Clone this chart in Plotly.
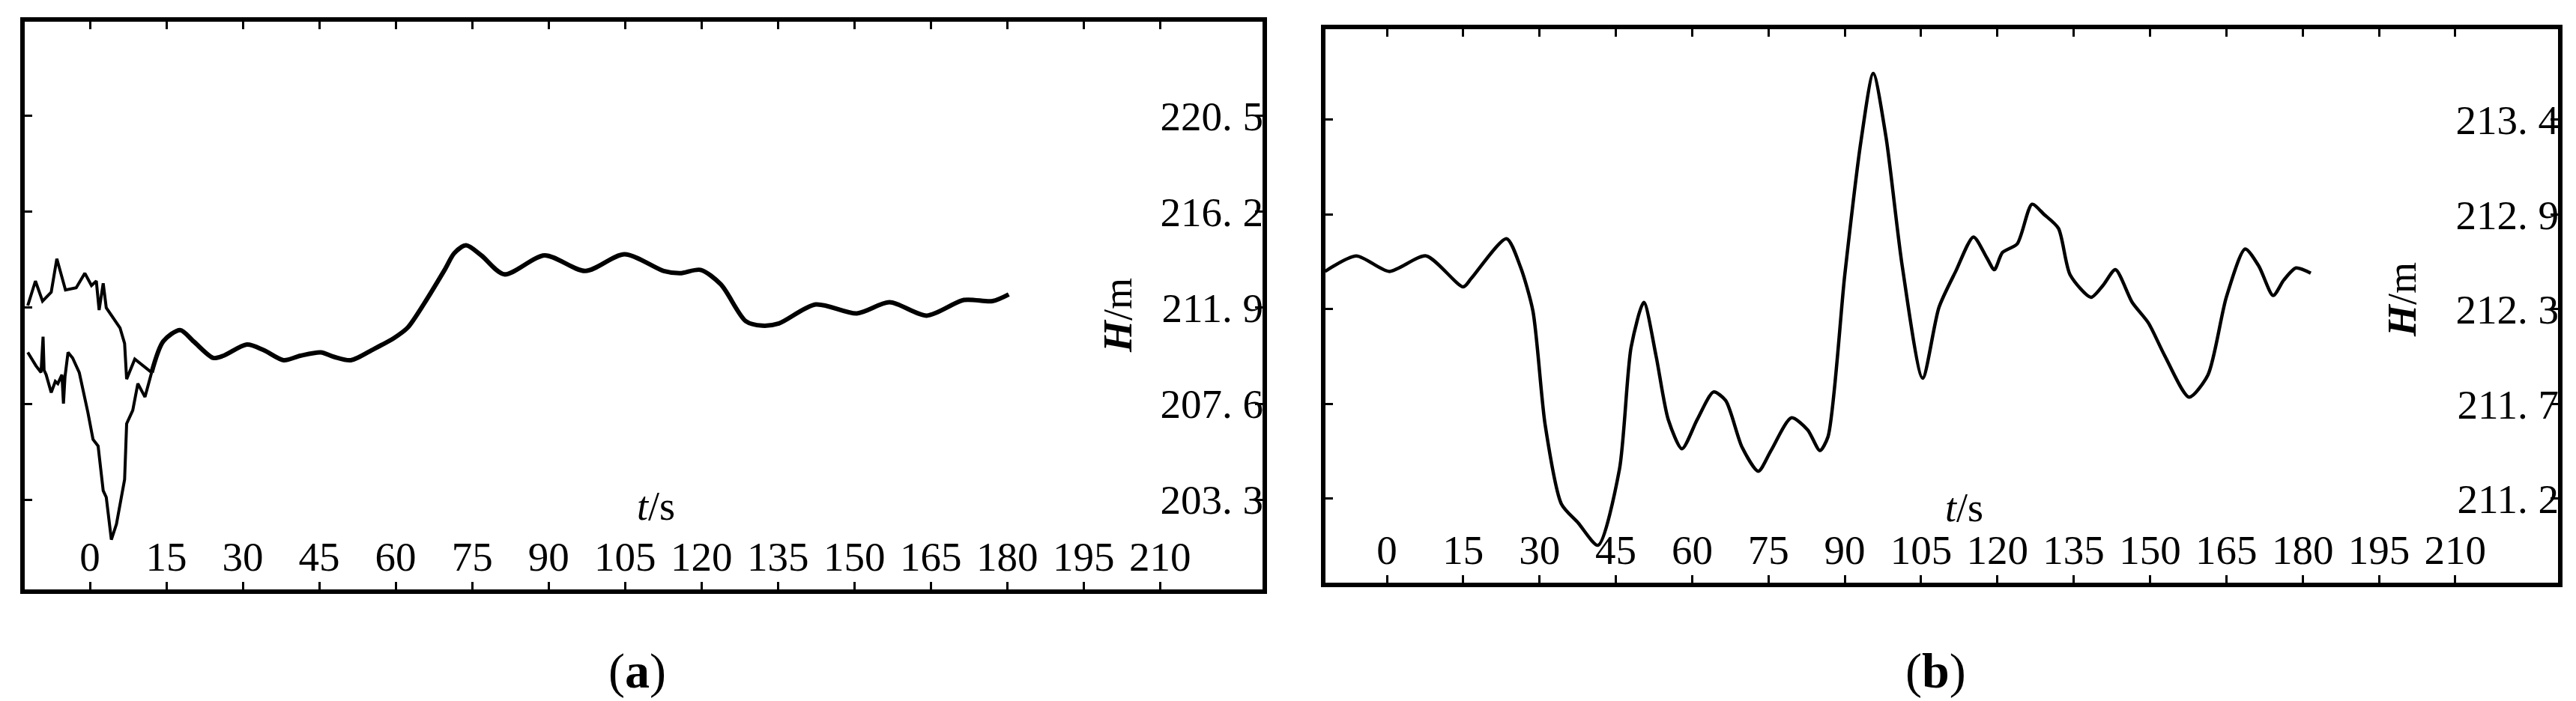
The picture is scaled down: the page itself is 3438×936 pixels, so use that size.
import plotly.graph_objects as go

# ---------------- data: panel (a) ----------------
a_upper_t = [-12.2, -10.7, -9.3, -7.6, -6.5, -4.8, -2.7, -1.0, 0.3, 1.25, 1.8, 2.6, 3.2, 5.9, 6.8, 7.2, 8.8, 12.1]
a_upper_H = [212.0, 213.1, 212.2, 212.6, 214.1, 212.7, 212.8, 213.45, 212.9, 213.1, 211.8, 213.0, 211.9, 211.0, 210.3, 208.7, 209.6, 209.0]

a_lower_t = [-12.2, -10.6, -9.6, -9.2, -9.0, -8.6, -7.6, -6.8, -6.3, -5.5, -5.2, -4.9, -4.3, -3.4, -2.1, -1.0, -0.4,
             0.6, 1.6, 2.6, 3.2, 4.2, 5.2, 6.8, 7.2, 8.4, 9.4, 10.8, 12.1]
a_lower_H = [209.9, 209.3, 209.0, 210.6, 209.1, 208.9, 208.1, 208.6, 208.5, 208.9, 207.6, 208.8, 209.9, 209.65, 209.0, 207.9, 207.2,
             206.0, 205.7, 203.7, 203.4, 201.5, 202.2, 204.2, 206.7, 207.3, 208.5, 207.9, 209.0]

a_common_t = [12.1, 14.4, 17.7, 20.3, 24.2, 26.2, 30.8, 34.1, 38.0, 41.3, 45.3, 47.9, 51.2, 55.7, 59.7, 62.3, 65.6,
              69.6, 71.5, 73.8, 76.8, 81.3, 89.2, 97.2, 104.9, 112.6, 115.8, 119.8, 123.8, 128.7, 131.9, 135.2,
              142.4, 150.5, 156.9, 164.2, 171.5, 177.1, 180.3]
a_common_H = [209.0, 210.4, 210.9, 210.4, 209.65, 209.75, 210.25, 210.0, 209.55, 209.75, 209.9, 209.7, 209.55, 210.05, 210.55, 211.0, 212.1,
              213.6, 214.35, 214.7, 214.25, 213.4, 214.25, 213.55, 214.3, 213.55, 213.45, 213.6, 212.95, 211.3, 211.1, 211.2,
              212.05, 211.65, 212.15, 211.55, 212.25, 212.2, 212.5]

a_ytick_vals = [220.5, 216.2, 211.9, 207.6, 203.3]
a_ytick_text = ["220. 5", "216. 2", "211. 9", "207. 6", "203. 3"]

# ---------------- data: panel (b) ----------------
b_t = [-12.15, -6.0, 0.45, 7.7, 15.0, 16.6, 23.5, 26.2, 28.7, 31.1, 34.3, 37.6, 41.5, 45.7, 48.0, 50.5, 52.9, 55.3,
       58.0, 61.0, 64.2, 66.6, 69.8, 73.0, 75.5, 79.5, 82.7, 85.1, 86.7, 90.0, 93.2, 95.6, 98.1, 101.3, 105.3, 108.5,
       111.8, 115.3, 117.9, 119.4, 121.0, 123.9, 126.8, 129.2, 132.0, 134.3, 138.4, 140.8, 143.2, 146.5, 149.7, 152.9,
       157.7, 161.4, 165.0, 168.7, 171.4, 174.2, 176.3, 178.7, 181.6]
b_H = [212.52, 212.61, 212.52, 212.61, 212.43, 212.48, 212.71, 212.55, 212.29, 211.63, 211.17, 211.06, 210.93, 211.37,
       212.08, 212.34, 212.03, 211.66, 211.49, 211.66, 211.82, 211.77, 211.50, 211.36, 211.48, 211.67, 211.60, 211.48,
       211.56, 212.50, 213.28, 213.67, 213.30, 212.55, 211.90, 212.31, 212.52, 212.72, 212.60, 212.53, 212.63, 212.68,
       212.91, 212.85, 212.77, 212.50, 212.37, 212.44, 212.53, 212.34, 212.22, 212.03, 211.79, 211.92, 212.37, 212.65,
       212.55, 212.38, 212.47, 212.54, 212.51]

b_ytick_vals = [213.4, 212.85, 212.3, 211.75, 211.2]
b_ytick_text = ["213. 4", "212. 9", "212. 3", "211. 7", "211. 2"]

x_tick_vals = [0, 15, 30, 45, 60, 75, 90, 105, 120, 135, 150, 165, 180, 195, 210, 225]
x_tick_text = ["0", "15", "30", "45", "60", "75", "90", "105", "120", "135", "150", "165", "180", "195", "210", ""]

# ---------------- figure ----------------
W, H = 3438, 936
FONT = "Liberation Serif"
TICK_SIZE = 55

fig = go.Figure()
line_a = dict(color="black", width=4)
fig.add_trace(go.Scatter(x=a_upper_t, y=a_upper_H, mode="lines", line=line_a, xaxis="x", yaxis="y", showlegend=False))
fig.add_trace(go.Scatter(x=a_lower_t, y=a_lower_H, mode="lines", line=line_a, xaxis="x", yaxis="y", showlegend=False))
fig.add_trace(go.Scatter(x=a_common_t, y=a_common_H, mode="lines", line=dict(color="black", width=6, shape="spline", smoothing=0.8),
                         xaxis="x", yaxis="y", showlegend=False))
fig.add_trace(go.Scatter(x=b_t, y=b_H, mode="lines", line=dict(color="black", width=4.5, shape="spline", smoothing=0.7),
                         xaxis="x2", yaxis="y2", showlegend=False))

def px_x(p):
    return p / W

def px_y(p):
    return 1 - p / H

common_x = dict(tickmode="array", tickvals=x_tick_vals, ticktext=x_tick_text, ticks="inside", ticklen=10, tickwidth=3,
                tickcolor="black", showline=True, linewidth=6, linecolor="black", mirror="ticks", showgrid=False,
                zeroline=False, ticklabelposition="inside", ticklabelstandoff=12,
                tickfont=dict(family=FONT, size=TICK_SIZE, color="black"))
common_y = dict(tickmode="array", ticks="inside", ticklen=10, tickwidth=3, tickcolor="black", showline=True, linewidth=6,
                linecolor="black", mirror="ticks", showgrid=False, zeroline=False, side="right",
                ticklabelposition="inside", ticklabelstandoff=-3,
                tickfont=dict(family=FONT, size=TICK_SIZE, color="black"))

fig.update_layout(
    width=W, height=H, autosize=False,
    margin=dict(l=0, r=0, t=0, b=0),
    paper_bgcolor="white", plot_bgcolor="white",
    xaxis=dict(domain=[px_x(25), px_x(1677)], range=[-12.8, 230.1], anchor="y", **common_x),
    yaxis=dict(domain=[px_y(779), px_y(21)], range=[199.27, 224.73], anchor="x",
               tickvals=a_ytick_vals, ticktext=a_ytick_text, **common_y),
    xaxis2=dict(domain=[px_x(1761), px_x(3406)], range=[-12.08, 230.2], anchor="y2", **common_x),
    yaxis2=dict(domain=[px_y(770), px_y(31)], range=[210.713, 213.926], anchor="x2",
                tickvals=b_ytick_vals, ticktext=b_ytick_text, **common_y),
)

ann_font = dict(family=FONT, size=54, color="black")
annotations = [
    dict(x=px_x(868), y=px_y(668), text="<i>t</i>/s", font=ann_font),
    dict(x=px_x(2613), y=px_y(670), text="<i>t</i>/s", font=ann_font),
    dict(x=px_x(1484), y=px_y(413), text="<b><i>H</i></b>/m", font=dict(family=FONT, size=54, color="black"), textangle=-90),
    dict(x=px_x(3198), y=px_y(392), text="<b><i>H</i></b>/m", font=dict(family=FONT, size=54, color="black"), textangle=-90),
    dict(x=px_x(842), y=px_y(888), text="(<b>a</b>)", font=dict(family=FONT, size=66, color="black")),
    dict(x=px_x(2575), y=px_y(888), text="(<b>b</b>)", font=dict(family=FONT, size=66, color="black")),
]
for a in annotations:
    a.update(xref="paper", yref="paper", showarrow=False, xanchor="center", yanchor="middle")
fig.update_layout(annotations=annotations)

fig.write_html("out.html")
